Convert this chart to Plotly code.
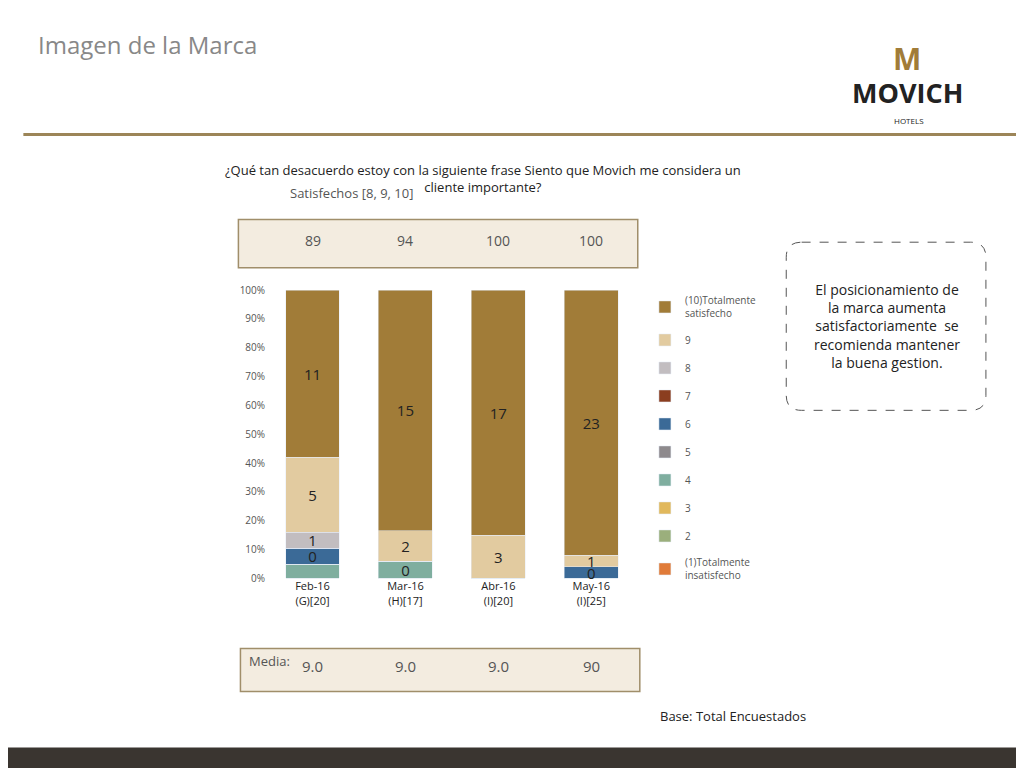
import plotly.graph_objects as go

periodos = ["Feb-16<br>(G)[20]", "Mar-16<br>(H)[17]", "Abr-16<br>(I)[20]", "May-16<br>(I)[25]"]
satisfechos = ["89", "94", "100", "100"]
media = ["9.0", "9.0", "9.0", "90"]

# porcentaje por categoria (de abajo hacia arriba) y etiquetas
series = [
    ("(1)Totalmente<br>insatisfecho", "#E07B39", [0, 0, 0, 0], ["", "", "", ""]),
    ("2", "#9BAF7C", [0, 0, 0, 0], ["", "", "", ""]),
    ("3", "#E1B85C", [0, 0, 0, 0], ["", "", "", ""]),
    ("4", "#7FAE9F", [5, 6, 0, 0], ["", "0", "", ""]),
    ("5", "#8E8A8D", [0, 0, 0, 0], ["", "", "", ""]),
    ("6", "#3B6A97", [5.5, 0, 0, 4], ["0", "", "", "0"]),
    ("7", "#8B3E1F", [0, 0, 0, 0], ["", "", "", ""]),
    ("8", "#C2BDC0", [5.5, 0, 0, 0], ["1", "", "", ""]),
    ("9", "#E2CBA0", [26, 10.5, 15, 4], ["5", "2", "3", "1"]),
    ("(10)Totalmente<br>satisfecho", "#A17C38", [58, 83.5, 85, 92], ["11", "15", "17", "23"]),
]

fig = go.Figure()
for i, (nombre, color, vals, etiquetas) in enumerate(series):
    fig.add_trace(go.Bar(
        x=periodos, y=vals, name=nombre, marker_color=color, legendgroup=nombre,
        legendrank=1000 - i,
        text=etiquetas, textposition="inside", insidetextanchor="middle",
        textangle=0, constraintext="none", cliponaxis=False,
        textfont=dict(size=15, color="#222"), width=0.58,
    ))

fig.update_layout(
    barmode="stack", width=1024, height=768,
    paper_bgcolor="white", plot_bgcolor="white",
    margin=dict(l=0, r=0, t=0, b=0),
    font=dict(family="Open Sans", color="#333"),
    xaxis=dict(domain=[0.252, 0.615], tickfont=dict(size=11, color="#222")),
    yaxis=dict(domain=[0.254, 0.6365], range=[0, 100], ticksuffix="%",
               dtick=10, tickfont=dict(size=10, color="#555"), showgrid=False),
    legend=dict(x=0.622, y=0.64, yanchor="top", traceorder="grouped",
                font=dict(size=10, color="#555"), itemwidth=30,
                tracegroupgap=9, bgcolor="rgba(0,0,0,0)"),
)

# marcos y textos
fig.add_shape(type="line", xref="paper", yref="paper", x0=0.015, x1=1, y0=0.843, y1=0.843,
              line=dict(color="#9C8558", width=3))
fig.add_shape(type="rect", xref="paper", yref="paper", x0=0.225, x1=0.615, y0=0.666, y1=0.730,
              fillcolor="#F3ECE0", line=dict(color="#A08E6A", width=1.5))
fig.add_shape(type="rect", xref="paper", yref="paper", x0=0.227, x1=0.617, y0=0.104, y1=0.161,
              fillcolor="#F3ECE0", line=dict(color="#A08E6A", width=1.5))
fig.add_shape(type="path", xref="paper", yref="paper",
              path="M 0.775 0.700 L 0.94 0.700 Q 0.955 0.700 0.955 0.680 L 0.955 0.497 "
                   "Q 0.955 0.477 0.94 0.477 L 0.775 0.477 Q 0.760 0.477 0.760 0.497 "
                   "L 0.760 0.680 Q 0.760 0.700 0.775 0.700 Z",
              line=dict(color="#555", width=1, dash="dash"))
fig.add_shape(type="rect", xref="paper", yref="paper", x0=0, x1=1, y0=0, y1=0.03,
              fillcolor="#3A3530", line=dict(width=0))

anns = [
    dict(x=0.027, y=0.987, text="Imagen de la Marca", size=24, color="#888", xanchor="left"),
    dict(x=0.878, y=0.973, text="<b>M</b>", size=30, color="#A17C38"),
    dict(x=0.878, y=0.926, text="<b>MOVICH</b>", size=27, color="#222"),
    dict(x=0.88, y=0.872, text="HOTELS", size=8, color="#222"),
    dict(x=0.464, y=0.810, text="¿Qué tan desacuerdo estoy con la siguiente frase Siento que Movich me considera un<br>cliente importante?", size=13, color="#222"),
    dict(x=0.273, y=0.780, text="Satisfechos [8, 9, 10]", size=13, color="#555", xanchor="left"),
    dict(x=0.233, y=0.130, text="Media:", size=13, color="#555", xanchor="left"),
    dict(x=0.858, y=0.589, text="El posicionamiento de<br>la marca aumenta<br>satisfactoriamente  se<br>recomienda mantener<br>la buena gestion.", size=14, color="#222"),
    dict(x=0.708, y=0.057, text="Base: Total Encuestados", size=13, color="#222"),
]
for a in anns:
    fig.add_annotation(xref="paper", yref="paper", x=a["x"], y=a["y"], text=a["text"],
                       showarrow=False, xanchor=a.get("xanchor", "center"),
                       font=dict(size=a["size"], color=a["color"]))

for i, (s, m) in enumerate(zip(satisfechos, media)):
    fig.add_annotation(xref="x", yref="paper", x=periodos[i], y=0.718, text=s,
                       showarrow=False, font=dict(size=14, color="#555"))
    fig.add_annotation(xref="x", yref="paper", x=periodos[i], y=0.122, text=m,
                       showarrow=False, font=dict(size=15, color="#555"))

fig.write_html("out.html")
